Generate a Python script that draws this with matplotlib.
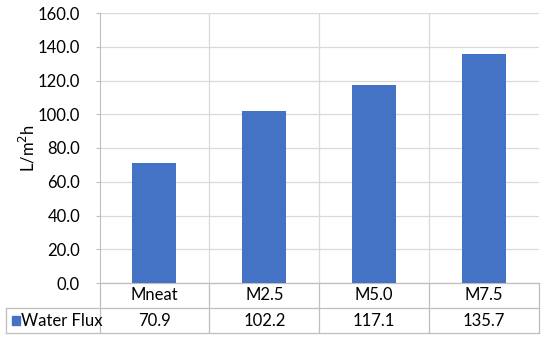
import matplotlib.pyplot as plt
from matplotlib.patches import Rectangle

plt.rcParams['font.family'] = ['Lato', 'DejaVu Sans']

categories = ['Mneat', 'M2.5', 'M5.0', 'M7.5']
water_flux = [70.9, 102.2, 117.1, 135.7]
series_name = 'Water Flux'
bar_color = '#4472C4'
line_color = '#BFBFBF'
fs = 12

fig = plt.figure(figsize=(5.5, 3.42), dpi=100)
W, H = 550, 342
left, right, top, bottom = 99.5, 539, 13, 283
ax = fig.add_axes([left / W, 1 - bottom / H, (right - left) / W, (bottom - top) / H])

x = list(range(len(categories)))
ax.bar(x, water_flux, width=0.4, color=bar_color, zorder=3)
ax.set_xlim(-0.5, len(categories) - 0.5)
ax.set_ylim(0, 160)
ax.set_yticks(range(0, 161, 20))
ax.set_yticklabels([f'{v:.1f}' for v in range(0, 161, 20)], fontsize=fs)
ax.set_xticks([])
ax.yaxis.grid(True, color='#D9D9D9', linewidth=0.9, zorder=0)
for b in range(1, len(categories)):
    ax.axvline(b - 0.5, color='#D9D9D9', linewidth=0.9, zorder=0)
for s in ['top', 'right', 'bottom']:
    ax.spines[s].set_visible(False)
ax.spines['left'].set_color(line_color)
ax.tick_params(axis='y', length=3, color=line_color, pad=11)
ax.set_ylabel('L/m$^2$h', fontsize=fs, labelpad=0)

# data table below the plot
tr = ax.get_xaxis_transform()
h = 25 / (bottom - top)
lab_left = -0.5 - (left - 6) / ((right - left) / len(categories))
kw = dict(color=line_color, linewidth=0.9, clip_on=False, transform=tr)
ax.plot([-0.5, 3.5], [0, 0], **kw)
ax.plot([lab_left, 3.5], [-h, -h], **kw)
ax.plot([lab_left, 3.5], [-2 * h, -2 * h], **kw)
ax.plot([lab_left, lab_left], [-h, -2 * h], **kw)
for b in range(len(categories) + 1):
    ax.plot([b - 0.5, b - 0.5], [0, -2 * h], **kw)

for i, (c, v) in enumerate(zip(categories, water_flux)):
    ax.text(i, -h / 2, c, transform=tr, ha='center', va='center', fontsize=fs)
    ax.text(i, -1.5 * h, f'{v:.1f}', transform=tr, ha='center', va='center', fontsize=fs)

ax.add_patch(Rectangle((lab_left + 0.055, -1.5 * h - 0.016), 0.07, 0.032,
                       transform=tr, color=bar_color, clip_on=False))
ax.text(lab_left + 0.14, -1.5 * h, series_name, transform=tr, ha='left',
        va='center', fontsize=fs)

fig.savefig('out.png', dpi=100)
